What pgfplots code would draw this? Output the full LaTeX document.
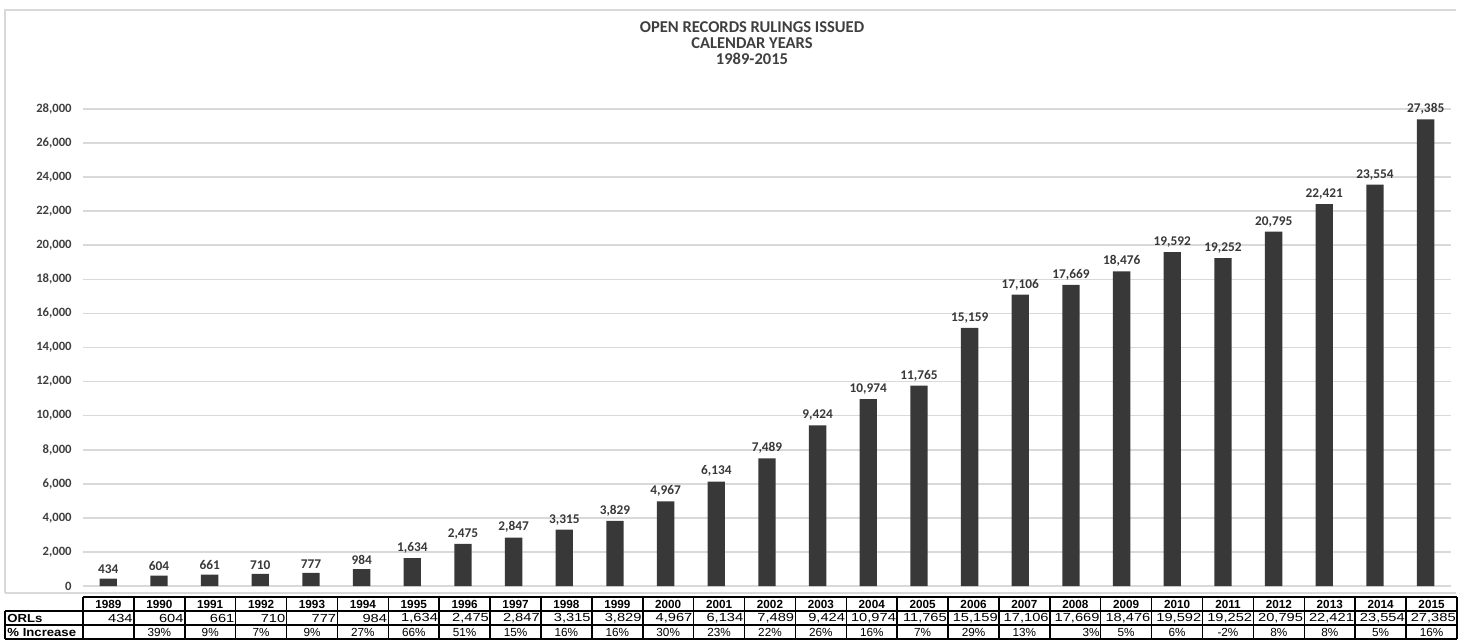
\documentclass[border=0pt]{standalone}
\usepackage{graphicx}
\usepackage{pgfplots}
\usepackage{pgfplotstable}
\pgfplotsset{compat=1.18}
\usepackage{fontspec}
\setmainfont{Carlito}
\newfontfamily\arial{Liberation Sans}

\definecolor{barc}{HTML}{383838}
\definecolor{txtc}{HTML}{3F3F3F}
\definecolor{gridc}{HTML}{D9D9D9}

% i = column index, orl = rulings issued, pct = increase over the year before
\pgfplotstableread{
i year orl pct
0 1989 434 0
1 1990 604 39
2 1991 661 9
3 1992 710 7
4 1993 777 9
5 1994 984 27
6 1995 1634 66
7 1996 2475 51
8 1997 2847 15
9 1998 3315 16
10 1999 3829 16
11 2000 4967 30
12 2001 6134 23
13 2002 7489 22
14 2003 9424 26
15 2004 10974 16
16 2005 11765 7
17 2006 15159 29
18 2007 17106 13
19 2008 17669 3
20 2009 18476 5
21 2010 19592 6
22 2011 19252 -2
23 2012 20795 8
24 2013 22421 8
25 2014 23554 5
26 2015 27385 16
}\orls

\begin{document}
\begin{tikzpicture}[x=0.75pt,y=-0.75pt]
\path[use as bounding box] (0,0) rectangle (1458,641);
\draw[gridc, line width=1.2pt] (5,593) -- (5,10) -- (1456,10);
\draw[gridc, line width=1pt] (5,593) -- (1456,593);

\node[font=\bfseries\fontsize{12.4}{14}\selectfont, text=txtc] at (752,27) {OPEN RECORDS RULINGS ISSUED};
\node[font=\bfseries\fontsize{12.4}{14}\selectfont, text=txtc] at (752,43) {CALENDAR YEARS};
\node[font=\bfseries\fontsize{12.4}{14}\selectfont, text=txtc] at (752,59) {1989-2015};

% bars
\begin{axis}[at={(62.25pt,-439.5pt)}, anchor=south west,
             scale only axis,
             width=1026pt, height=357.75pt,
             xmin=-0.5, xmax=26.5,
             ymin=0, ymax=28000,
             ytick={0,2000,...,28000},
             scaled y ticks=false,
             xtick=\empty,
             ymajorgrids,
             grid style={gridc, line width=1.2pt},
             axis line style={draw=none},
             major tick length=0pt,
             /pgf/number format/1000 sep={,},
             /pgf/number format/assume math mode=true,
             yticklabel style={font=\bfseries\fontsize{9.5}{11}\selectfont, text=txtc, xshift=-5pt,
               /pgf/number format/fixed},
             clip=false]
  \addplot[ybar, bar width=13pt, fill=barc, draw=none,
           nodes near coords,
           every node near coord/.append style={font=\fontsize{10}{12}\selectfont\bfseries, text=barc}]
    table[x=i, y=orl] {\orls};
\end{axis}

% data table below the chart
\begin{axis}[at={(62.25pt,-479.25pt)}, anchor=south west,
             scale only axis,
             width=1030.5pt, height=31.5pt,
             xmin=-0.5, xmax=26.5,
             ymin=0, ymax=3,
             hide axis,
             clip=false,
             /pgf/number format/1000 sep={,},
             /pgf/number format/assume math mode=true]
  \draw[black, line width=1.1pt] (axis cs:-0.5,3) -- (axis cs:26.5,3);
  \draw[black, line width=1.1pt] (axis cs:-2.033,2) -- (axis cs:26.5,2);
  \draw[black, line width=0.8pt] (axis cs:-2.033,1) -- (axis cs:26.5,1);
  \draw[black, line width=1.1pt] (axis cs:-2.033,0) -- (axis cs:26.5,0);
  \draw[black, line width=1.1pt] (axis cs:-2.033,0) -- (axis cs:-2.033,2);
  \pgfplotsinvokeforeach{-0.5,0.5,...,26.5}{
    \draw[black, line width=1.1pt] (axis cs:#1,0) -- (axis cs:#1,3);
  }
  \node[anchor=west, font=\arial\bfseries\fontsize{8.8}{10}\selectfont, inner sep=0pt]
    at (axis cs:-1.99,1.5) {\scalebox{1.12}[1]{ORLs}};
  \node[anchor=west, font=\arial\bfseries\fontsize{8.8}{10}\selectfont, inner sep=0pt]
    at (axis cs:-1.99,0.5) {\scalebox{1.12}[1]{\% Increase}};
  % years
  \addplot[draw=none, mark=none,
           nodes near coords, point meta=explicit symbolic,
           every node near coord/.append style={anchor=center, inner sep=0pt,
             font=\arial\bfseries\fontsize{8.8}{10}\selectfont}]
    table[x=i, y expr=2.5, meta=year] {\orls};
  % rulings issued
  \addplot[draw=none, mark=none,
           nodes near coords={\scalebox{1.25}[1]{\pgfmathprintnumber{\pgfplotspointmeta}}},
           point meta=explicit,
           every node near coord/.append style={anchor=east, inner sep=0pt,
             font=\arial\fontsize{8.8}{10}\selectfont}]
    table[x expr=\thisrow{i}+0.48, y expr=1.5, meta=orl] {\orls};
  % percent increase: centred, except 2008 which sits right aligned; none for 1989
  \addplot[draw=none, mark=none,
           x filter/.expression={(x<0.5 || abs(x-19)<0.1) ? nan : x},
           nodes near coords={\pgfmathprintnumber{\pgfplotspointmeta}\%},
           point meta=explicit,
           every node near coord/.append style={anchor=center, inner sep=0pt,
             font=\arial\fontsize{8.8}{10}\selectfont}]
    table[x=i, y expr=0.5, meta=pct] {\orls};
  \addplot[draw=none, mark=none,
           x filter/.expression={abs(x-19.48)<0.1 ? x : nan},
           nodes near coords={\pgfmathprintnumber{\pgfplotspointmeta}\%},
           point meta=explicit,
           every node near coord/.append style={anchor=east, inner sep=0pt,
             font=\arial\fontsize{8.8}{10}\selectfont}]
    table[x expr=\thisrow{i}+0.48, y expr=0.5, meta=pct] {\orls};
\end{axis}
\end{tikzpicture}
\end{document}
